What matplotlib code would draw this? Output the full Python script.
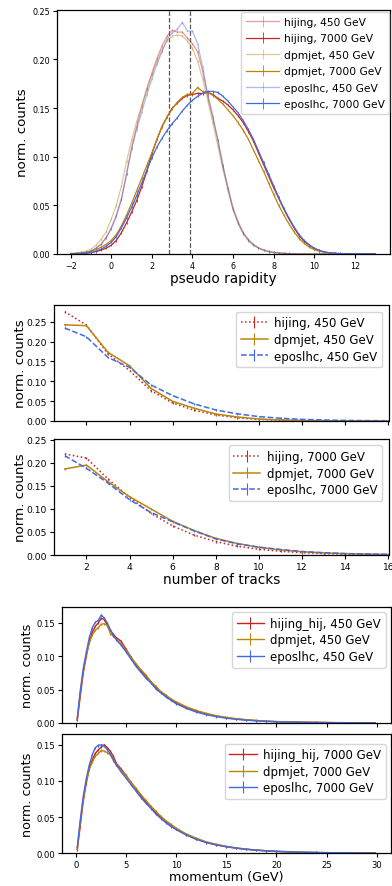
import numpy as np
import matplotlib
matplotlib.use("Agg")
import matplotlib.pyplot as plt

W, H = 392, 887

# ---------------- pseudo rapidity data ----------------
eta = np.arange(-2.0, 13.001, 0.25)
eta_cuts = [2.85, 3.87]

eta_hijing_450 = [
    0.0003, 0.0005, 0.001, 0.0015, 0.003, 0.006, 0.010, 0.017,
    0.026, 0.039, 0.056, 0.082, 0.109, 0.131, 0.151, 0.170,
    0.186, 0.201, 0.214, 0.224, 0.230, 0.228, 0.228, 0.222,
    0.216, 0.208, 0.188, 0.162, 0.140, 0.117, 0.091, 0.068,
    0.047, 0.033, 0.022, 0.015, 0.010, 0.0065, 0.0042, 0.0027,
    0.0017, 0.0011, 0.0007, 0.0004, 0.0003, 0.0002, 0.0001, 0.0001,
    0.0001, 0.0001, 0.00005, 0.00005, 0.00003, 0.00003, 0.00002, 0.00002,
    0.00001, 0.00001, 0.00001, 0.0, 0.0]
eta_hijing_7000 = [
    0.0001, 0.0002, 0.0004, 0.0008, 0.0015, 0.0025, 0.004, 0.006,
    0.009, 0.014, 0.022, 0.032, 0.043, 0.055, 0.069, 0.085,
    0.103, 0.118, 0.131, 0.141, 0.150, 0.155, 0.160, 0.163,
    0.164, 0.165, 0.165, 0.166, 0.164, 0.160, 0.157, 0.153,
    0.148, 0.142, 0.135, 0.126, 0.116, 0.104, 0.092, 0.080,
    0.068, 0.057, 0.046, 0.036, 0.027, 0.019, 0.013, 0.009,
    0.0055, 0.0035, 0.002, 0.0012, 0.0007, 0.0004, 0.0002, 0.0001,
    0.0001, 0.00005, 0.00005, 0.00002, 0.00001]
eta_dpmjet_450 = [
    0.0008, 0.0012, 0.002, 0.003, 0.005, 0.009, 0.015, 0.023,
    0.036, 0.050, 0.070, 0.095, 0.117, 0.136, 0.153, 0.169,
    0.184, 0.198, 0.210, 0.219, 0.224, 0.225, 0.224, 0.219,
    0.211, 0.198, 0.180, 0.158, 0.135, 0.111, 0.087, 0.065,
    0.045, 0.031, 0.021, 0.014, 0.009, 0.006, 0.0038, 0.0024,
    0.0015, 0.001, 0.0006, 0.0004, 0.0002, 0.0001, 0.0001, 0.0001,
    0.00005, 0.00005, 0.00003, 0.00003, 0.00002, 0.00002, 0.00001, 0.00001,
    0.0, 0.0, 0.0, 0.0, 0.0]
eta_dpmjet_7000 = [
    0.0003, 0.0005, 0.001, 0.0017, 0.003, 0.0045, 0.007, 0.010,
    0.014, 0.020, 0.029, 0.040, 0.052, 0.065, 0.078, 0.091,
    0.104, 0.118, 0.131, 0.141, 0.149, 0.156, 0.161, 0.164,
    0.165, 0.171, 0.167, 0.166, 0.163, 0.159, 0.154, 0.148,
    0.142, 0.135, 0.127, 0.118, 0.107, 0.096, 0.085, 0.073,
    0.061, 0.050, 0.040, 0.031, 0.023, 0.016, 0.011, 0.007,
    0.0045, 0.0028, 0.0016, 0.001, 0.0006, 0.0003, 0.0002, 0.0001,
    0.00005, 0.00003, 0.00002, 0.00001, 0.0]
eta_epos_450 = [
    0.0002, 0.0004, 0.0008, 0.0015, 0.003, 0.006, 0.010, 0.017,
    0.027, 0.040, 0.057, 0.082, 0.108, 0.128, 0.146, 0.164,
    0.180, 0.195, 0.208, 0.221, 0.227, 0.231, 0.238, 0.229,
    0.229, 0.216, 0.192, 0.164, 0.142, 0.117, 0.090, 0.067,
    0.046, 0.032, 0.021, 0.014, 0.009, 0.006, 0.004, 0.0025,
    0.0016, 0.001, 0.0006, 0.0004, 0.0002, 0.0001, 0.0001, 0.0001,
    0.00005, 0.00005, 0.00003, 0.00003, 0.00002, 0.00002, 0.00001, 0.00001,
    0.0, 0.0, 0.0, 0.0, 0.0]
eta_epos_7000 = [
    0.0001, 0.0002, 0.0004, 0.0008, 0.0015, 0.003, 0.005, 0.008,
    0.012, 0.018, 0.027, 0.037, 0.048, 0.060, 0.073, 0.086,
    0.099, 0.110, 0.119, 0.127, 0.134, 0.140, 0.147, 0.153,
    0.158, 0.162, 0.165, 0.167, 0.167, 0.166, 0.162, 0.157,
    0.151, 0.145, 0.137, 0.128, 0.118, 0.106, 0.094, 0.082,
    0.070, 0.058, 0.047, 0.037, 0.028, 0.020, 0.014, 0.0095,
    0.006, 0.0037, 0.0022, 0.0013, 0.0008, 0.0005, 0.0003, 0.0002,
    0.0001, 0.00005, 0.00005, 0.00002, 0.00001]

# ---------------- number of tracks data ----------------
ntracks = np.arange(1, 17)
trk_hijing_450 = [0.275, 0.2417, 0.169, 0.127, 0.076, 0.0453, 0.027, 0.015,
                  0.008, 0.004, 0.002, 0.001, 0.0005, 0.0002, 0.0001, 0.00005]
trk_dpmjet_450 = [0.242, 0.240, 0.173, 0.139, 0.082, 0.0495, 0.032, 0.0176,
                  0.010, 0.005, 0.0025, 0.0012, 0.0006, 0.0003, 0.0001, 0.00005]
trk_epos_450 = [0.234, 0.212, 0.160, 0.135, 0.0906, 0.0638, 0.043, 0.0277,
                0.018, 0.011, 0.007, 0.004, 0.0025, 0.0015, 0.001, 0.0006]
trk_hijing_7000 = [0.219, 0.2103, 0.165, 0.125, 0.090, 0.063, 0.043, 0.029,
                   0.019, 0.0123, 0.008, 0.005, 0.003, 0.002, 0.0012, 0.0008]
trk_dpmjet_7000 = [0.1865, 0.195, 0.159, 0.1265, 0.0997, 0.073, 0.053, 0.036,
                   0.025, 0.0166, 0.011, 0.007, 0.0045, 0.003, 0.002, 0.0012]
trk_epos_7000 = [0.2153, 0.188, 0.156, 0.120, 0.092, 0.072, 0.052, 0.035,
                 0.024, 0.017, 0.012, 0.0075, 0.005, 0.003, 0.002, 0.0012]

# ---------------- momentum data ----------------
mom = [0.15, 0.45, 0.75, 1.05, 1.35, 1.65, 1.95, 2.25, 2.55, 2.85, 3.15, 3.45,
       3.75, 4.05, 4.5, 5, 5.5, 6, 6.5, 7, 7.5, 8, 8.5, 9, 9.5, 10, 11, 12, 13,
       14, 15, 16, 17, 18, 19, 20, 22, 24, 26, 28, 29.85]
mom_hijing_450 = [0.004, 0.040, 0.075, 0.100, 0.122, 0.136, 0.145, 0.150, 0.157,
                  0.155, 0.147, 0.139, 0.133, 0.128, 0.123, 0.111, 0.099, 0.087,
                  0.078, 0.070, 0.061, 0.053, 0.046, 0.040, 0.035, 0.030, 0.0235,
                  0.018, 0.0135, 0.0105, 0.008, 0.006, 0.0047, 0.0036, 0.0027,
                  0.0021, 0.0014, 0.0009, 0.0006, 0.0004, 0.0003]
mom_dpmjet_450 = [0.006, 0.045, 0.078, 0.102, 0.120, 0.132, 0.139, 0.143, 0.148,
                  0.149, 0.146, 0.134, 0.130, 0.126, 0.119, 0.109, 0.099, 0.089,
                  0.080, 0.072, 0.062, 0.055, 0.047, 0.042, 0.036, 0.032, 0.0245,
                  0.019, 0.0145, 0.011, 0.0085, 0.0065, 0.005, 0.0038, 0.0028,
                  0.0021, 0.0013, 0.0008, 0.0005, 0.0003, 0.0002]
mom_epos_450 = [0.007, 0.048, 0.082, 0.106, 0.128, 0.143, 0.151, 0.154, 0.162,
                0.157, 0.150, 0.140, 0.131, 0.125, 0.117, 0.107, 0.096, 0.085,
                0.076, 0.067, 0.060, 0.051, 0.045, 0.039, 0.034, 0.029, 0.022,
                0.0165, 0.0125, 0.0095, 0.0072, 0.0055, 0.0042, 0.0032, 0.0024,
                0.0018, 0.0011, 0.0007, 0.0004, 0.0003, 0.0002]
mom_hijing_7000 = [0.005, 0.038, 0.072, 0.097, 0.117, 0.129, 0.138, 0.143, 0.147,
                   0.150, 0.146, 0.141, 0.134, 0.124, 0.117, 0.108, 0.098, 0.089,
                   0.079, 0.071, 0.063, 0.056, 0.049, 0.043, 0.038, 0.033, 0.0255,
                   0.0195, 0.015, 0.0115, 0.009, 0.007, 0.0054, 0.0042, 0.0032,
                   0.0025, 0.0015, 0.001, 0.0006, 0.0004, 0.0003]
mom_dpmjet_7000 = [0.006, 0.042, 0.075, 0.099, 0.116, 0.126, 0.134, 0.138, 0.142,
                   0.141, 0.139, 0.136, 0.128, 0.122, 0.115, 0.107, 0.098, 0.090,
                   0.081, 0.073, 0.065, 0.058, 0.051, 0.045, 0.040, 0.035, 0.027,
                   0.021, 0.016, 0.0125, 0.0097, 0.0075, 0.0058, 0.0045, 0.0035,
                   0.0027, 0.0016, 0.001, 0.0006, 0.0004, 0.0003]
mom_epos_7000 = [0.008, 0.046, 0.079, 0.103, 0.122, 0.136, 0.146, 0.149, 0.150,
                 0.148, 0.143, 0.137, 0.130, 0.122, 0.113, 0.104, 0.095, 0.086,
                 0.077, 0.069, 0.062, 0.054, 0.048, 0.042, 0.037, 0.033, 0.0255,
                 0.0195, 0.015, 0.0118, 0.0092, 0.0072, 0.0057, 0.0045, 0.0036,
                 0.0028, 0.0018, 0.0012, 0.0008, 0.0005, 0.0003]

ERR_ETA = 0.0012
ERR_TRK = 0.002
ERR_MOM = 0.0015

C_HIJ = '#cc2222'
C_DPM = '#b8860b'
C_EPO = '#4169e1'

fig = plt.figure(figsize=(W / 100, H / 100), dpi=100)


def add_ax(left, right, top, bottom):
    return fig.add_axes([left / W, 1 - bottom / H, (right - left) / W, (bottom - top) / H])


def style(ax, tsize):
    ax.tick_params(labelsize=tsize, length=3, width=0.8, pad=2)
    for s in ax.spines.values():
        s.set_linewidth(0.9)


# ---------- panel 1 ----------
ax1 = add_ax(56.7, 390, 11, 255)
series1 = [
    (eta_hijing_450, C_HIJ, 0.45, 'hijing, 450 GeV'),
    (eta_hijing_7000, C_HIJ, 1.0, 'hijing, 7000 GeV'),
    (eta_dpmjet_450, C_DPM, 0.45, 'dpmjet, 450 GeV'),
    (eta_dpmjet_7000, C_DPM, 1.0, 'dpmjet, 7000 GeV'),
    (eta_epos_450, C_EPO, 0.45, 'eposlhc, 450 GeV'),
    (eta_epos_7000, C_EPO, 1.0, 'eposlhc, 7000 GeV'),
]
for y, c, a, lab in series1:
    ax1.errorbar(eta, y, yerr=ERR_ETA, color=c, alpha=a, lw=0.9, elinewidth=0.6, label=lab)
for xc in eta_cuts:
    ax1.axvline(xc, color='0.35', ls='--', lw=0.9)
ax1.set_xlim(-2.69, 13.73)
ax1.set_ylim(0, 0.2507)
ax1.set_xticks([-2, 0, 2, 4, 6, 8, 10, 12])
ax1.set_yticks([0, 0.05, 0.10, 0.15, 0.20, 0.25])
ax1.yaxis.set_major_formatter(matplotlib.ticker.FormatStrFormatter('%.2f'))
style(ax1, 5.8)
ax1.set_xlabel('pseudo rapidity', fontsize=9.8)
ax1.set_ylabel('norm. counts', fontsize=9.6)
ax1.yaxis.set_label_coords(-0.083, 0.5)
ax1.xaxis.set_label_coords(0.5, -0.07)
ax1.legend(loc='upper right', bbox_to_anchor=(0.998, 0.991), borderaxespad=0,
           fontsize=7.7, labelspacing=0.6, handlelength=3.1, handletextpad=0.4,
           borderpad=0.45)

# ---------- panels 2 & 3 ----------
ax2 = add_ax(54, 388.5, 306, 422)
ax3 = add_ax(54, 388.5, 440, 556)
trk_sets = [
    (ax2, [trk_hijing_450, trk_dpmjet_450, trk_epos_450], '450', 0.292),
    (ax3, [trk_hijing_7000, trk_dpmjet_7000, trk_epos_7000], '7000', 0.2515),
]
for ax, (h, d, e), en, ytop in trk_sets:
    ax.errorbar(ntracks, h, yerr=ERR_TRK, color=C_HIJ, ls=':', lw=1.1, elinewidth=0.8,
                label='hijing, %s GeV' % en)
    ax.errorbar(ntracks, d, yerr=ERR_TRK, color=C_DPM, ls='-', lw=1.1, elinewidth=0.8,
                label='dpmjet, %s GeV' % en)
    ax.errorbar(ntracks, e, yerr=ERR_TRK, color=C_EPO, ls='--', lw=1.1, elinewidth=0.8,
                label='eposlhc, %s GeV' % en)
    ax.set_xlim(0.5, 16.0)
    ax.set_ylim(0, ytop)
    ax.set_xticks([2, 4, 6, 8, 10, 12, 14, 16])
    ax.set_yticks([0, 0.05, 0.10, 0.15, 0.20, 0.25])
    ax.yaxis.set_major_formatter(matplotlib.ticker.FormatStrFormatter('%.2f'))
    style(ax, 6.6)
    ax.set_ylabel('norm. counts', fontsize=9.6)
    ax.yaxis.set_label_coords(-0.082, 0.5)
ax2.tick_params(labelbottom=False)
ax2.legend(loc='upper right', bbox_to_anchor=(0.981, 0.942), borderaxespad=0,
           fontsize=8.5, labelspacing=0.3, handlelength=2.3, handletextpad=0.55)
ax3.legend(loc='upper right', bbox_to_anchor=(0.981, 0.945), borderaxespad=0,
           fontsize=8.5, labelspacing=0.3, handlelength=2.3, handletextpad=0.55)
ax3.set_xlabel('number of tracks', fontsize=9.8)
ax3.xaxis.set_label_coords(0.5, -0.145)

# ---------- panels 4 & 5 ----------
ax4 = add_ax(61.7, 390.7, 608.3, 724)
ax5 = add_ax(61.7, 390.7, 735, 854.3)
mom_sets = [
    (ax4, [mom_hijing_450, mom_dpmjet_450, mom_epos_450], '450', 0.1735),
    (ax5, [mom_hijing_7000, mom_dpmjet_7000, mom_epos_7000], '7000', 0.1648),
]
for ax, (h, d, e), en, ytop in mom_sets:
    ax.errorbar(mom, h, yerr=ERR_MOM, color=C_HIJ, lw=1.0, elinewidth=0.8,
                label='hijing_hij, %s GeV' % en)
    ax.errorbar(mom, d, yerr=ERR_MOM, color=C_DPM, lw=1.0, elinewidth=0.8,
                label='dpmjet, %s GeV' % en)
    ax.errorbar(mom, e, yerr=ERR_MOM, color=C_EPO, lw=1.0, elinewidth=0.8,
                label='eposlhc, %s GeV' % en)
    ax.set_xlim(-1.4, 31.4)
    ax.set_ylim(0, ytop)
    ax.set_xticks([0, 5, 10, 15, 20, 25, 30])
    ax.set_yticks([0, 0.05, 0.10, 0.15])
    ax.yaxis.set_major_formatter(matplotlib.ticker.FormatStrFormatter('%.2f'))
    style(ax, 6.1)
    ax.set_ylabel('norm. counts', fontsize=9.2)
    ax.yaxis.set_label_coords(-0.085, 0.5)
ax4.tick_params(labelbottom=False)
ax4.legend(loc='upper right', bbox_to_anchor=(0.985, 0.958), borderaxespad=0,
           fontsize=8.5, labelspacing=0.3, handlelength=2.3, handletextpad=0.55)
ax5.legend(loc='upper right', bbox_to_anchor=(0.985, 0.92), borderaxespad=0,
           fontsize=8.5, labelspacing=0.3, handlelength=2.3, handletextpad=0.55)
ax5.set_xlabel('momentum (GeV)', fontsize=9.2)
ax5.xaxis.set_label_coords(0.5, -0.14)

fig.savefig('out.png', dpi=100)
